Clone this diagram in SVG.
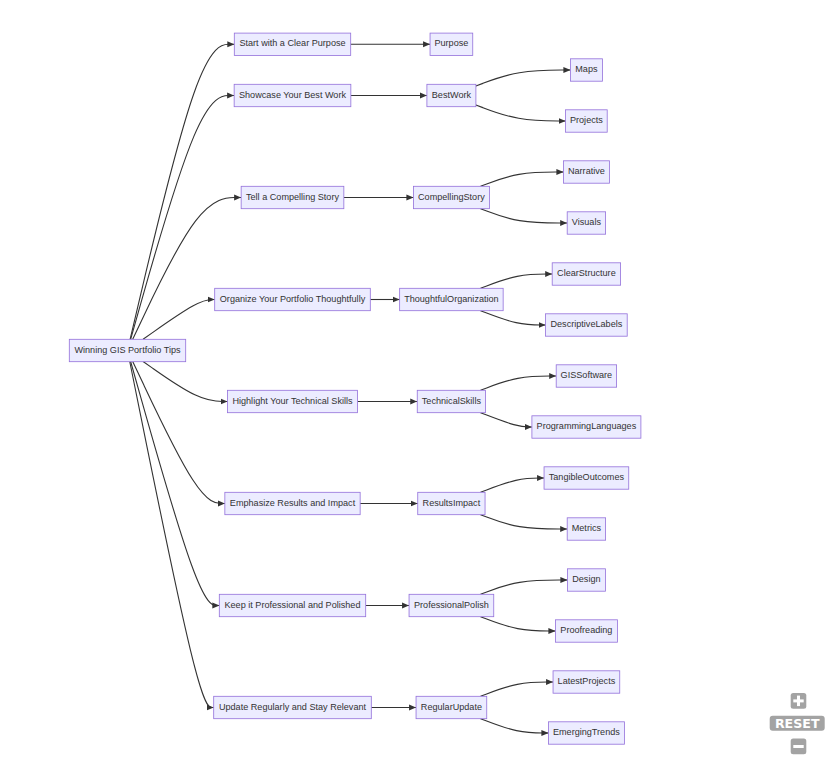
<svg xmlns="http://www.w3.org/2000/svg" width="836" height="763" viewBox="0 0 836 763">
<style>
.node rect{fill:#ECECFF;stroke:#9370DB;stroke-width:0.8}
.node text{font-family:"Liberation Sans",Arial,sans-serif;font-size:9.1px;fill:#333333;text-anchor:middle}
.edge{fill:none;stroke:#333333;stroke-width:1.1}
.ctrl{fill:#a3a3a3}
</style>
<defs>
<marker id="arrow" viewBox="0 0 10 10" refX="10" refY="5" markerUnits="userSpaceOnUse" markerWidth="7" markerHeight="7" orient="auto">
<path d="M0,0.8 L10,5 L0,9.2 z" fill="#333333"/>
</marker>
</defs>
<rect width="836" height="763" fill="#ffffff"/>
<g id="connectors">
<path class="edge" marker-end="url(#arrow)" d="M130.1,339.3 L141.7,290.13 C153.3,240.97 176.5,142.63 193.87,93.47 C211.23,44.3 222.77,44.3 228.53,44.3 L234.3,44.3"/>
<path class="edge" marker-end="url(#arrow)" d="M130.62,339.3 L142.13,298.67 C153.65,258.03 176.67,176.77 193.95,136.13 C211.23,95.5 222.77,95.5 228.53,95.5 L234.15,95.5"/>
<path class="edge" marker-end="url(#arrow)" d="M132.7,339.3 L143.87,315.67 C155.03,292.03 177.37,244.77 195.42,221.13 C213.47,197.5 227.23,197.5 234.12,197.5 L241.15,197.5"/>
<path class="edge" marker-end="url(#arrow)" d="M143.07,339.3 L152.51,332.63 C161.95,325.97 180.82,312.63 192.76,306.05 C204.7,299.5 209.7,299.5 212.2,299.5 L214.7,299.5"/>
<path class="edge" marker-end="url(#arrow)" d="M143.07,361.5 L152.51,368.1 C161.95,374.75 180.82,388.1 194.86,394.8 C208.9,401.5 218.1,401.5 222.7,401.5 L227.5,401.5"/>
<path class="edge" marker-end="url(#arrow)" d="M132.69,361.5 L143.86,385.1 C155.03,408.75 177.36,456.1 192.75,479.8 C208.13,503.5 216.57,503.5 220.78,503.5 L224.85,503.5"/>
<path class="edge" marker-end="url(#arrow)" d="M130.62,361.5 L142.13,402.1 C153.65,442.8 176.67,524.1 191.45,564.8 C206.23,605.5 212.77,605.5 216.03,605.5 L219.3,605.5"/>
<path class="edge" marker-end="url(#arrow)" d="M129.73,361.5 L141.39,419.1 C153.05,476.8 176.38,592.1 190.37,649.8 C204.37,707.5 209.03,707.5 211.37,707.5 L213.7,707.5"/>
<path class="edge" marker-end="url(#arrow)" d="M350.7,44.3 L430.05,44.3"/>
<path class="edge" marker-end="url(#arrow)" d="M350.85,95.5 L426.9,95.5"/>
<path class="edge" marker-end="url(#arrow)" d="M343.85,197.5 L413.4,197.5"/>
<path class="edge" marker-end="url(#arrow)" d="M370.3,299.5 L399.65,299.5"/>
<path class="edge" marker-end="url(#arrow)" d="M357.5,401.5 L417.25,401.5"/>
<path class="edge" marker-end="url(#arrow)" d="M360.15,503.5 L417.75,503.5"/>
<path class="edge" marker-end="url(#arrow)" d="M365.7,605.5 L409.05,605.5"/>
<path class="edge" marker-end="url(#arrow)" d="M371.3,707.5 L416.05,707.5"/>
<path class="edge" marker-end="url(#arrow)" d="M475.9,86.06 L482.85,83.38 C489.8,80.71 503.7,75.35 519.43,72.68 C535.17,70 552.73,70 561.52,70 L570.4,70"/>
<path class="edge" marker-end="url(#arrow)" d="M475.9,104.94 L482.85,107.62 C489.8,110.29 503.7,115.65 518.67,118.32 C533.63,121 549.67,121 557.68,121 L565.6,121"/>
<path class="edge" marker-end="url(#arrow)" d="M480.5,186.3 L486.68,183.92 C492.87,181.53 505.23,176.77 519.03,174.38 C532.83,172 548.07,172 555.68,172 L563.4,172"/>
<path class="edge" marker-end="url(#arrow)" d="M480.5,208.7 L486.68,211.08 C492.87,213.47 505.23,218.23 519.7,220.62 C534.17,223 550.73,223 559.02,223 L567.2,223"/>
<path class="edge" marker-end="url(#arrow)" d="M480.5,288.3 L486.68,285.92 C492.87,283.53 505.23,278.77 517.2,276.38 C529.17,274 540.73,274 546.52,274 L552.2,274"/>
<path class="edge" marker-end="url(#arrow)" d="M480.5,310.7 L486.68,313.08 C492.87,315.47 505.23,320.23 516.1,322.62 C526.97,325 536.33,325 541.02,325 L545.6,325"/>
<path class="edge" marker-end="url(#arrow)" d="M480.5,390.3 L486.68,387.92 C492.87,385.53 505.23,380.77 517.87,378.38 C530.5,376 543.4,376 549.85,376 L556.2,376"/>
<path class="edge" marker-end="url(#arrow)" d="M480.5,412.7 L486.68,415.08 C492.87,417.47 505.23,422.23 513.77,424.62 C522.3,427 527,427 529.35,427 L531.9,427"/>
<path class="edge" marker-end="url(#arrow)" d="M480.5,492.3 L486.68,489.92 C492.87,487.53 505.23,482.77 515.82,480.38 C526.4,478 535.2,478 539.6,478 L544.05,478"/>
<path class="edge" marker-end="url(#arrow)" d="M480.5,514.7 L486.68,517.08 C492.87,519.47 505.23,524.23 519.7,526.62 C534.17,529 550.73,529 559.02,529 L567.2,529"/>
<path class="edge" marker-end="url(#arrow)" d="M480.5,594.3 L486.68,591.92 C492.87,589.53 505.23,584.77 519.7,582.38 C534.17,580 550.73,580 559.02,580 L567.4,580"/>
<path class="edge" marker-end="url(#arrow)" d="M480.5,616.7 L486.68,619.08 C492.87,621.47 505.23,626.23 517.7,628.62 C530.17,631 542.73,631 549.02,631 L555.4,631"/>
<path class="edge" marker-end="url(#arrow)" d="M480.5,696.3 L486.68,693.92 C492.87,691.53 505.23,686.77 517.32,684.38 C529.4,682 541.2,682 547.1,682 L553.05,682"/>
<path class="edge" marker-end="url(#arrow)" d="M480.5,718.7 L486.68,721.08 C492.87,723.47 505.23,728.23 516.53,730.62 C527.83,733 538.07,733 543.18,733 L548.4,733"/>
</g>
<g id="root" class="node"><rect x="69.3" y="339.3" width="116.4" height="22.4"/><text x="127.5" y="352.5">Winning GIS Portfolio Tips</text></g>
<g id="n-start" class="node"><rect x="234.3" y="33.1" width="116.4" height="22.4"/><text x="292.5" y="46.3">Start with a Clear Purpose</text></g>
<g id="n-showcase" class="node"><rect x="234.15" y="84.3" width="116.7" height="22.4"/><text x="292.5" y="97.5">Showcase Your Best Work</text></g>
<g id="n-tell" class="node"><rect x="241.15" y="186.3" width="102.7" height="22.4"/><text x="292.5" y="199.5">Tell a Compelling Story</text></g>
<g id="n-organize" class="node"><rect x="214.7" y="288.3" width="155.6" height="22.4"/><text x="292.5" y="301.5">Organize Your Portfolio Thoughtfully</text></g>
<g id="n-highlight" class="node"><rect x="227.5" y="390.3" width="130" height="22.4"/><text x="292.5" y="403.5">Highlight Your Technical Skills</text></g>
<g id="n-emphasize" class="node"><rect x="224.85" y="492.3" width="135.3" height="22.4"/><text x="292.5" y="505.5">Emphasize Results and Impact</text></g>
<g id="n-keep" class="node"><rect x="219.3" y="594.3" width="146.4" height="22.4"/><text x="292.5" y="607.5">Keep it Professional and Polished</text></g>
<g id="n-update" class="node"><rect x="213.7" y="696.3" width="157.6" height="22.4"/><text x="292.5" y="709.5">Update Regularly and Stay Relevant</text></g>
<g id="m-purpose" class="node"><rect x="430.05" y="33.1" width="42.7" height="22.4"/><text x="451.4" y="46.3">Purpose</text></g>
<g id="m-bestwork" class="node"><rect x="426.9" y="84.3" width="49" height="22.4"/><text x="451.4" y="97.5">BestWork</text></g>
<g id="m-compelling" class="node"><rect x="413.4" y="186.3" width="76" height="22.4"/><text x="451.4" y="199.5">CompellingStory</text></g>
<g id="m-thoughtful" class="node"><rect x="399.65" y="288.3" width="103.5" height="22.4"/><text x="451.4" y="301.5">ThoughtfulOrganization</text></g>
<g id="m-technical" class="node"><rect x="417.25" y="390.3" width="68.3" height="22.4"/><text x="451.4" y="403.5">TechnicalSkills</text></g>
<g id="m-results" class="node"><rect x="417.75" y="492.3" width="67.3" height="22.4"/><text x="451.4" y="505.5">ResultsImpact</text></g>
<g id="m-professional" class="node"><rect x="409.05" y="594.3" width="84.7" height="22.4"/><text x="451.4" y="607.5">ProfessionalPolish</text></g>
<g id="m-regular" class="node"><rect x="416.05" y="696.3" width="70.7" height="22.4"/><text x="451.4" y="709.5">RegularUpdate</text></g>
<g id="l-maps" class="node"><rect x="570.4" y="58.8" width="32" height="22.4"/><text x="586.4" y="72">Maps</text></g>
<g id="l-projects" class="node"><rect x="565.6" y="109.8" width="41.6" height="22.4"/><text x="586.4" y="123">Projects</text></g>
<g id="l-narrative" class="node"><rect x="563.4" y="160.8" width="46" height="22.4"/><text x="586.4" y="174">Narrative</text></g>
<g id="l-visuals" class="node"><rect x="567.2" y="211.8" width="38.4" height="22.4"/><text x="586.4" y="225">Visuals</text></g>
<g id="l-clearstructure" class="node"><rect x="552.2" y="262.8" width="68.4" height="22.4"/><text x="586.4" y="276">ClearStructure</text></g>
<g id="l-descriptivelabels" class="node"><rect x="545.6" y="313.8" width="81.6" height="22.4"/><text x="586.4" y="327">DescriptiveLabels</text></g>
<g id="l-gissoftware" class="node"><rect x="556.2" y="364.8" width="60.4" height="22.4"/><text x="586.4" y="378">GISSoftware</text></g>
<g id="l-programming" class="node"><rect x="531.9" y="415.8" width="109" height="22.4"/><text x="586.4" y="429">ProgrammingLanguages</text></g>
<g id="l-tangible" class="node"><rect x="544.05" y="466.8" width="84.7" height="22.4"/><text x="586.4" y="480">TangibleOutcomes</text></g>
<g id="l-metrics" class="node"><rect x="567.2" y="517.8" width="38.4" height="22.4"/><text x="586.4" y="531">Metrics</text></g>
<g id="l-design" class="node"><rect x="567.4" y="568.8" width="38" height="22.4"/><text x="586.4" y="582">Design</text></g>
<g id="l-proofreading" class="node"><rect x="555.4" y="619.8" width="62" height="22.4"/><text x="586.4" y="633">Proofreading</text></g>
<g id="l-latest" class="node"><rect x="553.05" y="670.8" width="66.7" height="22.4"/><text x="586.4" y="684">LatestProjects</text></g>
<g id="l-emerging" class="node"><rect x="548.4" y="721.8" width="76" height="22.4"/><text x="586.4" y="735">EmergingTrends</text></g>
<g id="controls">
<rect class="ctrl" x="790.7" y="693" width="15.6" height="15.7" rx="2.5"/>
<rect x="793.3" y="699.4" width="10.4" height="3" fill="#ffffff"/>
<rect x="797" y="695.6" width="3" height="10.5" fill="#ffffff"/>
<rect class="ctrl" x="769.7" y="715.7" width="55" height="15" rx="3"/>
<text x="797.2" y="728.2" font-family="'DejaVu Sans','Liberation Sans',sans-serif" font-weight="bold" font-size="12.6" fill="#ffffff" text-anchor="middle">RESET</text>
<rect class="ctrl" x="790.7" y="738.5" width="15.6" height="15.8" rx="2.5"/>
<rect x="793.3" y="745" width="10.4" height="3" fill="#ffffff"/>
</g>
</svg>
